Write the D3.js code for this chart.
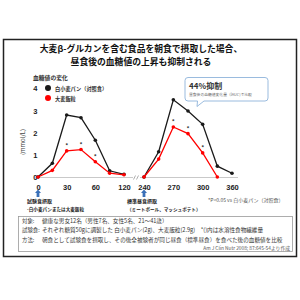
<!DOCTYPE html>
<html><head><meta charset="utf-8">
<script src="https://cdn.jsdelivr.net/npm/d3@7"></script>
<style>
html,body{margin:0;padding:0;background:#fff;}
svg{display:block;font-family:"Noto Sans CJK JP","Noto Sans",sans-serif;}
</style></head>
<body>
<svg id="c" width="300" height="300"></svg>
<script>
// ---- data ----
const titleLines = ["大麦β-グルカンを含む食品を朝食で摂取した場合、", "昼食後の血糖値の上昇も抑制される"];
const seriesNames = ["白小麦パン（対照食）", "大麦飯粒"];
const timesLeft = [0, 15, 30, 45, 60, 90, 120];
const timesRight = [240, 255, 270, 285, 300, 330, 360];
const wheatLeft = [0, 0.62, 2.8, 2.68, 1.66, 0.28, 0.12];
const barleyLeft = [0, 0.3, 1.18, 1.24, 0.69, 0.17, 0.1];
const wheatRight = [0, 1.14, 3.49, 2.98, 2.38, 0.49, 0.17];
const barleyRight = [0, 0.81, 2.26, 1.96, 1.09, 0];
const sigLeft = [30, 45, 60];
const sigRight = [270, 285, 300];
const xTicksLeft = [0, 30, 60, 120];
const xTicksRight = [240, 270, 300, 360];
const yTicks = [0, 1, 2, 3, 4];
const infoRows = [
  ["対象:", "健康な男女12名（男性7名、女性5名、21～41歳）"],
  ["試験食:", "それぞれ糖質50gに調製した 白小麦パン(2g)、大麦飯粒(2.9g)　*()内は水溶性食物繊維量"],
  ["方法:", "朝食として試験食を摂取し、その後全被験者が同じ昼食（標準昼食）を食べた後の血糖値を比較"]
];
const sourceText = "Am J Clin Nutr 2008; 87:645-54より作成";

const svg = d3.select("#c");
const BLACK = "#1a1a1a", RED = "#ff0000", BLUE = "#3a70b8";

// outer frame
svg.append("rect").attr("x", 3.5).attr("y", 39.5).attr("width", 293).attr("height", 217)
  .attr("fill", "#fff").attr("stroke", "#222").attr("stroke-width", 1.5);

// title
svg.selectAll("text.title").data(titleLines).join("text").attr("class", "title")
  .attr("x", 141).attr("y", (d, i) => 48 + i * 13).attr("dominant-baseline", "central")
  .attr("text-anchor", "middle").attr("font-size", 8.8).attr("font-weight", "bold").attr("fill", "#111")
  .text(d => d);

// scales
const y = d3.scaleLinear().domain([0, 4]).range([177, 88.5]);
const xL = d3.scalePoint().domain(timesLeft).range([38, 124]);
const xR = d3.scalePoint().domain(timesRight).range([144, 232]);

// sub label
svg.append("text").attr("x", 33).attr("y", 77).attr("dominant-baseline", "central")
  .attr("font-size", 5.8).attr("font-weight", "bold").attr("fill", "#333").text("血糖値の変化");

// y axis title
svg.append("text").attr("transform", "translate(22,142) rotate(-90)").attr("text-anchor", "middle")
  .attr("dominant-baseline", "central").attr("font-size", 6).attr("fill", "#444").text("(mmol/L)");

// y ticks
const yAxis = d3.axisLeft(y).tickValues(yTicks).tickSize(0).tickPadding(0).tickFormat(d3.format("d"));
const gy = svg.append("g").attr("transform", "translate(37.5,0)").call(yAxis);
gy.select(".domain").remove();
gy.selectAll("text").attr("font-size", 7.5).attr("font-weight", "bold").attr("fill", "#222")
  .attr("font-family", "Liberation Sans, Arial, sans-serif");

// x axes
function xAxisPanel(scale, ticks, x0, x1) {
  svg.append("line").attr("x1", x0).attr("x2", x1).attr("y1", 177.5).attr("y2", 177.5)
    .attr("stroke", "#bbb").attr("stroke-width", 0.8);
  const g = svg.append("g").attr("transform", "translate(0,177.5)")
    .call(d3.axisBottom(scale).tickValues(ticks).tickSize(0).tickPadding(7));
  g.select(".domain").remove();
  g.selectAll("text").attr("font-size", 7.5).attr("font-weight", "bold").attr("fill", "#222")
    .attr("font-family", "Liberation Sans, Arial, sans-serif");
}
xAxisPanel(xL, xTicksLeft, 35, 133);
xAxisPanel(xR, xTicksRight, 140, 238);
// axis break mark
svg.append("path").attr("d", "M133.5,179.5 L135.5,175.5 M136.5,179.5 L138.5,175.5")
  .attr("stroke", "#999").attr("stroke-width", 0.8).attr("fill", "none");

// series drawing
function drawSeries(scale, times, vals, color) {
  const pts = vals.map((v, i) => [scale(times[i]), y(v)]);
  svg.append("path").attr("d", d3.line()(pts)).attr("fill", "none").attr("stroke", color).attr("stroke-width", 1.3);
  svg.append("g").selectAll("circle").data(pts).join("circle")
    .attr("cx", d => d[0]).attr("cy", d => d[1]).attr("r", 1.8).attr("fill", color);
}
drawSeries(xL, timesLeft, wheatLeft, BLACK);
drawSeries(xL, timesLeft, barleyLeft, RED);
drawSeries(xR, timesRight, wheatRight, BLACK);
drawSeries(xR, timesRight, barleyRight, RED);

// significance asterisks
function drawSig(scale, times, vals, sig) {
  svg.append("g").selectAll("text").data(sig).join("text")
    .attr("x", d => scale(d)).attr("y", d => y(vals[times.indexOf(d)]) - 5)
    .attr("text-anchor", "middle").attr("dominant-baseline", "central")
    .attr("font-size", 6).attr("font-weight", "bold").attr("fill", "#333").text("*");
}
drawSig(xL, timesLeft, barleyLeft, sigLeft);
drawSig(xR, timesRight, barleyRight, sigRight);

// legend
const leg = svg.append("g");
seriesNames.forEach((n, i) => {
  leg.append("circle").attr("cx", 48).attr("cy", 88 + i * 10).attr("r", 3).attr("fill", i ? RED : BLACK);
  leg.append("text").attr("x", 55).attr("y", 88 + i * 10).attr("dominant-baseline", "central")
    .attr("font-size", 5.2).attr("font-weight", "bold").attr("fill", "#333").text(n);
});

// callout
svg.append("path")
  .attr("d", "M188,77.5 H265 Q268,77.5 268,80.5 V98 Q268,101 265,101 H204 L197,106.5 L197.5,101 H188 Q185,101 185,98 V80.5 Q185,77.5 188,77.5 Z")
  .attr("fill", "#fff").attr("stroke", "#8fb3da").attr("stroke-width", 0.9);
svg.append("text").attr("x", 189).attr("y", 85.5).attr("dominant-baseline", "central")
  .attr("font-size", 8).attr("font-weight", "bold").attr("fill", "#333").text("44%抑制");
svg.append("text").attr("x", 189).attr("y", 94.5).attr("dominant-baseline", "central")
  .attr("font-size", 3.8).attr("fill", "#666").text("昼食後の血糖値変化量（iAUC)で比較");

// arrows
function arrow(cx) {
  const t = 189.5, b = 197;
  svg.append("path").attr("d", `M${cx},${t} L${cx + 3},${t + 3.5} L${cx + 1.4},${t + 3.5} L${cx + 1.4},${b} L${cx - 1.4},${b} L${cx - 1.4},${t + 3.5} L${cx - 3},${t + 3.5} Z`)
    .attr("fill", BLUE);
}
arrow(xL(0));
arrow(xR(240));

// captions under arrows
const cap = [[27, "試験食摂取", "-白小麦パンまたは大麦飯粒"], [127, "標準昼食摂取", "（ミートボール、マッシュポテト）"]];
cap.forEach(c => {
  svg.append("text").attr("x", c[0]).attr("y", 200.5).attr("dominant-baseline", "central")
    .attr("font-size", 5).attr("font-weight", "bold").attr("fill", "#222").text(c[1]);
  svg.append("text").attr("x", c[0]).attr("y", 209).attr("dominant-baseline", "central")
    .attr("font-size", 4.6).attr("font-weight", "bold").attr("fill", "#222").text(c[2]);
});
svg.append("text").attr("x", 208).attr("y", 199).attr("dominant-baseline", "central")
  .attr("font-size", 5).attr("fill", "#555").text("*P<0.05 vs 白小麦パン（対照食）");

// info box
svg.append("rect").attr("x", 18.5).attr("y", 216.5).attr("width", 274).attr("height", 35)
  .attr("fill", "#fff").attr("stroke", "#999").attr("stroke-width", 0.8);
infoRows.forEach((r, i) => {
  const yy = 221 + i * 9.4;
  svg.append("text").attr("x", 22).attr("y", yy).attr("dominant-baseline", "central")
    .attr("font-size", 5.4).attr("fill", "#333").text(r[0]);
  svg.append("text").attr("x", 42).attr("y", yy).attr("dominant-baseline", "central")
    .attr("font-size", 5.6).attr("fill", "#333").text(r[1]);
});
svg.append("text").attr("x", 290).attr("y", 247.5).attr("text-anchor", "end").attr("dominant-baseline", "central")
  .attr("font-size", 4.8).attr("fill", "#555").text(sourceText);
</script>
</body></html>
